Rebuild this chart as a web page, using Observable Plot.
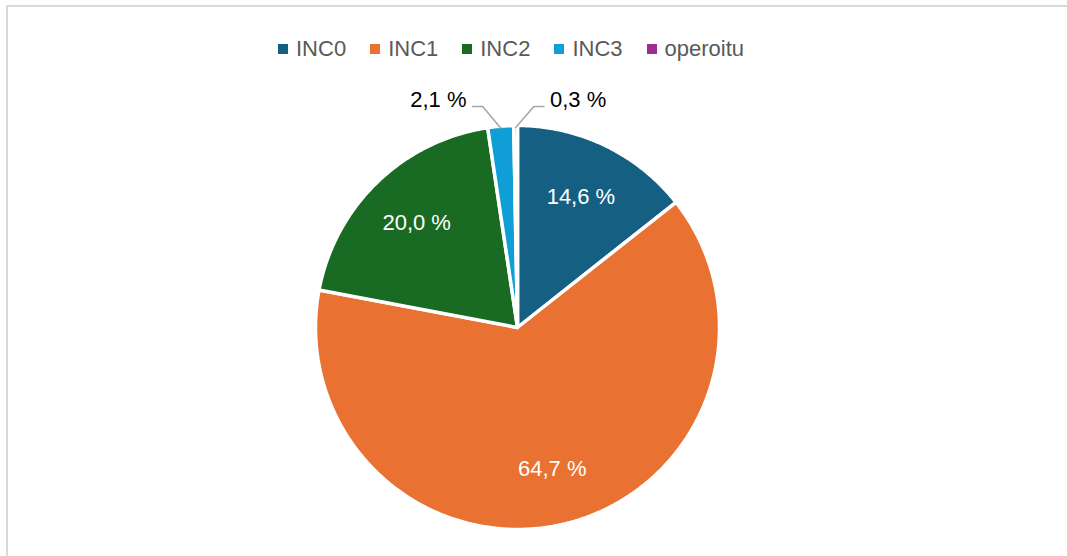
<!DOCTYPE html>
<html>
<head>
<meta charset="utf-8">
<script src="https://cdn.jsdelivr.net/npm/d3@7"></script>
<script src="https://cdn.jsdelivr.net/npm/@observablehq/plot@0.6"></script>
<style>
  html, body { margin: 0; padding: 0; background: #fff; }
  #wrap { position: relative; width: 1067px; height: 556px; overflow: hidden; font-family: "Liberation Sans", Arial, sans-serif; }
  #frame { position: absolute; left: 6px; top: 5px; width: 1100px; height: 600px; border-left: 2px solid #d9d9d9; border-top: 2px solid #d9d9d9; box-sizing: border-box; pointer-events: none; }
  #legend { height: 62px; box-sizing: border-box; padding-top: 36px; padding-left: 278px; }
  #legend .leg-swatches { margin: 0 !important; min-height: 0 !important; font-family: "Liberation Sans", Arial, sans-serif !important; font-size: 22px !important; color: #595959 !important; line-height: 26px; }
  #legend .leg-swatch { margin-right: 24px !important; }
  #legend .leg-swatch > svg { margin-right: 8px !important; }
  #chart svg { display: block; }
</style>
</head>
<body>
<div id="wrap">
  <div id="legend"></div>
  <div id="chart"></div>
  <div id="frame"></div>
</div>
<script>
const categories = ["INC0", "INC1", "INC2", "INC3", "operoitu"];
const values = [14.6, 64.7, 20.0, 2.1, 0.3];
const labelTexts = ["14,6 %", "64,7 %", "20,0 %", "2,1 %", "0,3 %"];
const colors = ["#156082", "#E97132", "#196B24", "#0F9ED5", "#A02B93"];

const total = d3.sum(values);
const pie = d3.pie().sort(null).startAngle(0).endAngle(2 * Math.PI)(values);

// slice polygons in unit-circle coordinates
const slicePoints = [];
pie.forEach((p, i) => {
  const key = categories[i];
  slicePoints.push({key, x: 0, y: 0});
  const steps = Math.max(2, Math.ceil((p.endAngle - p.startAngle) / (Math.PI / 360)));
  for (let s = 0; s <= steps; s++) {
    const a = p.startAngle + (p.endAngle - p.startAngle) * s / steps;
    slicePoints.push({key, x: Math.sin(a), y: Math.cos(a)});
  }
  slicePoints.push({key, x: 0, y: 0});
});

// labels
const inside = [];
const outsideLeft = [];
const outsideRight = [];
const leaders = [];
let smallCount = 0;
pie.forEach((p, i) => {
  const mid = (p.startAngle + p.endAngle) / 2;
  const share = values[i] / total;
  if (share > 0.05) {
    inside.push({text: labelTexts[i], x: 0.72 * Math.sin(mid), y: 0.72 * Math.cos(mid)});
  } else {
    const dir = smallCount % 2 === 0 ? -1 : 1;
    smallCount++;
    const ex = 0.99 * Math.sin(mid), ey = 0.99 * Math.cos(mid);
    const elx = ex + dir * 0.09, ely = 1.094;
    const enx = elx + dir * 0.05;
    leaders.push({k: i, x: ex, y: ey}, {k: i, x: elx, y: ely}, {k: i, x: enx, y: ely});
    (dir < 0 ? outsideLeft : outsideRight).push({text: labelTexts[i], x: enx + dir * 0.03, y: 1.124});
  }
});

const cx = 517, cy = 327 - 62, r = 202;

const legend = Plot.legend({
  color: {type: "ordinal", domain: categories, range: colors},
  legend: "swatches",
  swatchSize: 10,
  className: "leg"
});
document.getElementById("legend").appendChild(legend);

const chart = Plot.plot({
  width: 1067,
  height: 494,
  margin: 0,
  style: {fontFamily: "Liberation Sans, Arial, sans-serif", background: "transparent"},
  x: {domain: [-1, 1], range: [cx - r, cx + r], axis: null},
  y: {domain: [-1, 1], range: [cy + r, cy - r], axis: null},
  color: {domain: categories, range: colors},
  marks: [
    Plot.line(slicePoints, {x: "x", y: "y", z: "key", fill: "key", stroke: "white", strokeWidth: 3.5, strokeLinejoin: "round"}),
    Plot.line(leaders, {x: "x", y: "y", z: "k", stroke: "#a6a6a6", strokeWidth: 1.5}),
    Plot.text(inside, {x: "x", y: "y", text: "text", fill: "white", fontSize: 22}),
    Plot.text(outsideLeft, {x: "x", y: "y", text: "text", fill: "#000", fontSize: 22, textAnchor: "end"}),
    Plot.text(outsideRight, {x: "x", y: "y", text: "text", fill: "#000", fontSize: 22, textAnchor: "start"})
  ]
});
document.getElementById("chart").appendChild(chart);
</script>
</body>
</html>
